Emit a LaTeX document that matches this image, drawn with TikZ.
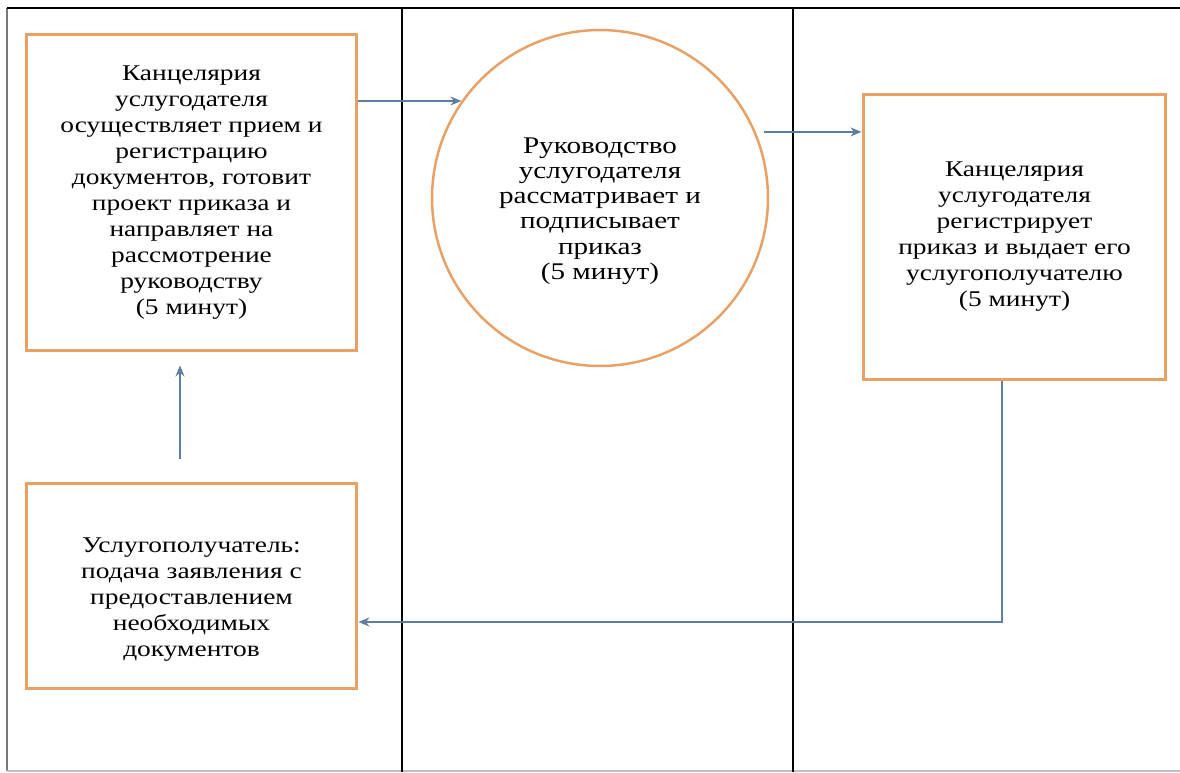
\documentclass[tikz,border=0pt]{standalone}
\usepackage{fontspec}
\setmainfont{Liberation Serif}[FakeStretch=1.22]
\usepackage{tikz}
\usetikzlibrary{arrows}
\usetikzlibrary{arrows.meta}
\definecolor{boxorange}{RGB}{232,160,100}
\definecolor{arrowblue}{RGB}{95,125,160}
\definecolor{framegray}{RGB}{120,120,120}

\begin{document}
\begin{tikzpicture}[x=0.02cm, y=-0.02cm,
    stepbox/.style={draw=boxorange, line width=1.7pt, fill=white, align=center,
      font=\fontsize{12.8}{14.8}\selectfont, inner sep=0pt},
    stepcirc/.style={circle, draw=boxorange, line width=1.4pt, fill=white, align=center,
      font=\fontsize{13.6}{14.4}\selectfont, inner sep=0pt, minimum size=6.72cm},
    arr/.style={-{Stealth[length=2.2mm, width=1.8mm]}, arrowblue, line width=0.8pt}]
  \useasboundingbox (0,0) rectangle (1180,772);

  % Lanes
  \draw[framegray, line width=1.6pt] (7,8) -- (7,771);
  \draw[black!25, line width=1pt] (7,771) -- (1180,771);
  \draw[black, line width=0.9pt] (7,8) -- (1180,8);
  \draw[black, line width=0.9pt] (402,8) -- (402,772);
  \draw[black, line width=0.9pt] (793,8) -- (793,772);

  % Steps
  \node[stepbox, minimum width=6.62cm, minimum height=6.34cm] (chancery) at (191.5,192.5)
    {Канцелярия\\ услугодателя\\ осуществляет прием и\\ регистрацию\\ документов, готовит\\
     проект приказа и\\ направляет на\\ рассмотрение\\ руководству\\ (5 минут)};
  \node[stepcirc] (management) at (600,198)
    {\\[1.5ex]Руководство\\ услугодателя\\ рассматривает и\\ подписывает\\ приказ\\ (5 минут)};
  \node[stepbox, minimum width=6.06cm, minimum height=5.72cm] (issue) at (1014.5,237)
    {Канцелярия\\ услугодателя\\ регистрирует\\ приказ и выдает его\\ услугополучателю\\ (5 минут)};
  \node[stepbox, minimum width=6.62cm, minimum height=4.1cm] (receiver) at (191.5,586)
    {\\[1.6ex]Услугополучатель:\\ подача заявления с\\ предоставлением\\ необходимых\\ документов};

  % Connectors
  \draw[arr] (chancery.east |- management.145) -- (management.145);
  \draw[arr, shorten <=0.16cm] (management.23) -- (management.23 -| issue.west);
  \draw[arr] ([xshift=-0.25cm]issue.south) |- ([yshift=-0.72cm]receiver.east);
  \draw[arr, shorten <=0.46cm, shorten >=0.26cm] ([xshift=-0.23cm]receiver.north) -- ([xshift=-0.23cm]chancery.south);

\end{tikzpicture}
\end{document}
